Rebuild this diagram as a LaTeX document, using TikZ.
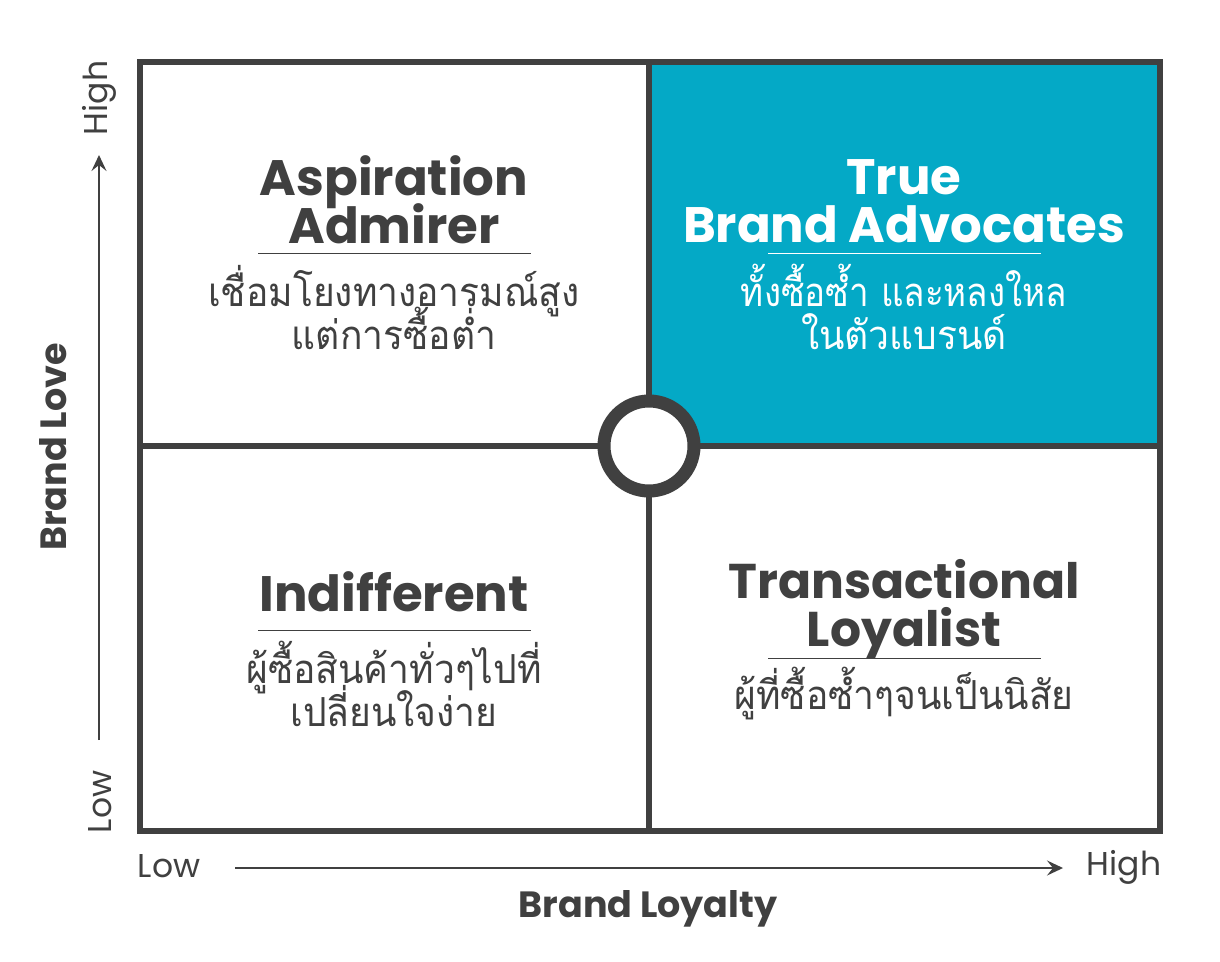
\documentclass[tikz,border=0pt]{standalone}
\usepackage{fontspec}
\usetikzlibrary{arrows.meta}
\setmainfont{Poppins}
\newfontfamily\thaifont[Script=Thai,FakeStretch=0.93]{Loma}
\newfontfamily\thaitight[Script=Thai,FakeStretch=0.875]{Loma}
\definecolor{ink}{HTML}{404040}
\definecolor{teal}{HTML}{04A9C6}
\newcommand{\tightlines}{\lineskip=0pt\lineskiplimit=-200pt\relax}
\tikzset{
  frameline/.style={draw=ink,line width=6.5pt},
  ruleline/.style={draw=ink,line width=1.5pt},
  axisarrow/.style={draw=ink,line width=2pt,-{Stealth[length=16pt,width=15pt,inset=6pt]}},
  head/.style={text=ink,font=\fontsize{49.8}{48}\bfseries\selectfont\tightlines,align=center,inner sep=0pt},
  thai/.style={text=ink,font=\fontsize{40}{43}\thaifont\selectfont\tightlines,align=center,inner sep=0pt},
  axislab/.style={text=ink,font=\fontsize{33}{33}\selectfont,inner sep=0pt},
  axistitle/.style={text=ink,font=\fontsize{36.5}{36}\bfseries\selectfont,inner sep=0pt},
  hub/.style={circle,draw=ink,line width=13pt,fill=white,minimum size=90pt,inner sep=0pt}
}
\begin{document}
\begin{tikzpicture}[x=1pt,y=-1pt]
\useasboundingbox (0,0) rectangle (1220,961);
\fill[white] (0,0) rectangle (1220,961);
\coordinate (tl) at (140,62); \coordinate (tr) at (1160,62);
\coordinate (bl) at (140,831); \coordinate (br) at (1160,831);
\coordinate (tm) at (649,62); \coordinate (bm) at (649,831);
\coordinate (ml) at (140,446); \coordinate (mr) at (1160,446);
\coordinate (cc) at (649,446);
\fill[teal] (tm) rectangle (mr);
\draw[frameline] (tl) rectangle (br);
\draw[frameline] (tm) -- (bm);
\draw[frameline] (ml) -- (mr);
\node[hub] (hubc) at (cc) {};

\node[head] (h1) at (394,200) {Aspiration\\Admirer};
\coordinate (r1a) at (258,253.5); \coordinate (r1b) at (531,253.5);
\draw[ruleline] (r1a) -- (r1b);
\node[thai] (t1) at (394,308) {เชื่อมโยงทางอารมณ์สูง\\แต่การซื้อต่ำ};

\node[head,text=white] (h2) at (904,201) {True\\Brand Advocates};
\coordinate (r2a) at (768,253.5); \coordinate (r2b) at (1041,253.5);
\draw[ruleline,draw=white] (r2a) -- (r2b);
\node[thai,text=white] (t2) at (904,307) {{\thaitight ทั้งซื้อซ้ำ และหลงใหล}\\ในตัวแบรนด์};

\node[head] (h3) at (394,592) {Indifferent};
\coordinate (r3a) at (258,630.5); \coordinate (r3b) at (531,630.5);
\draw[ruleline] (r3a) -- (r3b);
\node[thai] (t3) at (394,684) {ผู้ซื้อสินค้าทั่วๆไปที่\\เปลี่ยนใจง่าย};

\node[head,font=\fontsize{48.8}{48}\bfseries\selectfont\tightlines] (h4) at (904,609) {Transactional\\Loyalist};
\coordinate (r4a) at (768,658.5); \coordinate (r4b) at (1041,658.5);
\draw[ruleline] (r4a) -- (r4b);
\node[thai] (t4) at (904,694) {ผู้ที่ซื้อซ้ำๆจนเป็นนิสัย};

\coordinate (va) at (99,740); \coordinate (vb) at (99,155);
\draw[axisarrow] (va) -- (vb);
\coordinate (ha) at (235,868); \coordinate (hb) at (1063,868);
\draw[axisarrow] (ha) -- (hb);
\node[axislab,rotate=90] (lowy) at (100,802) {Low};
\node[axislab,rotate=90] (highy) at (99,98) {High};
\node[axislab] (lowx) at (169,866) {Low};
\node[axislab] (highx) at (1124,867) {High};
\node[axistitle,rotate=90] (ty) at (53,447) {Brand Love};
\node[axistitle] (tx) at (648,909) {Brand Loyalty};
\end{tikzpicture}
\end{document}
